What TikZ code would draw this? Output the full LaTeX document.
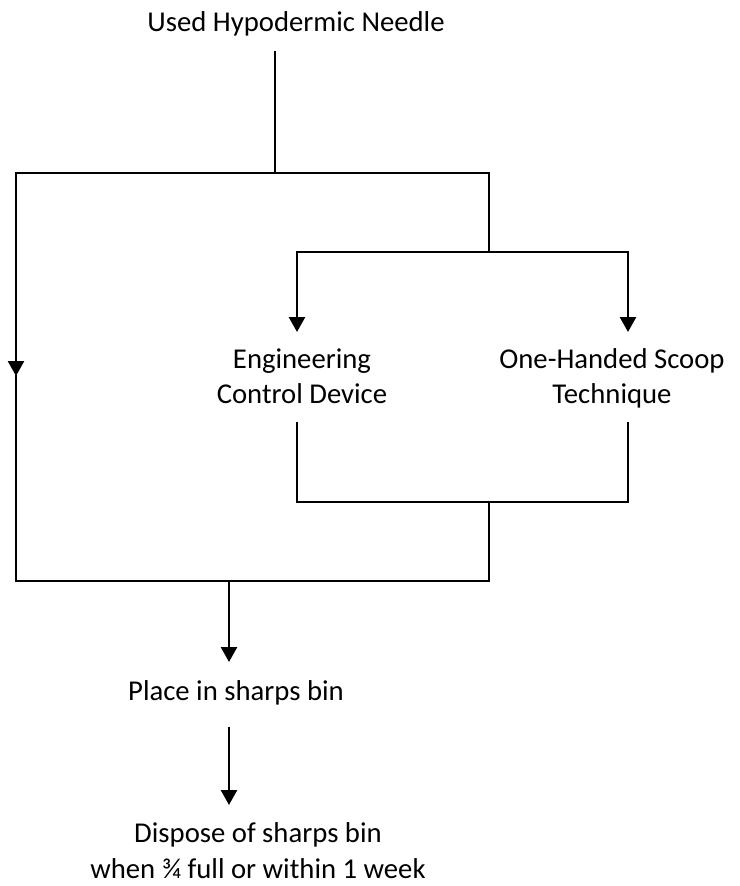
\documentclass[tikz,border=0pt]{standalone}
\usepackage{fontspec}
\setmainfont{Carlito}
\usetikzlibrary{arrows.meta}
\begin{document}
\begin{tikzpicture}[x=1pt,y=1pt,
  lbl/.style={inner sep=0pt,anchor=base,align=center,font=\fontsize{28.7}{35}\selectfont},
  wire/.style={line width=2.6pt,line cap=rect,line join=miter},
  arr/.style={wire,line cap=butt,-{Triangle[width=16pt,length=15pt]}}]
\useasboundingbox (0,0) rectangle (739,-886);
% texts (base anchor = baseline of last line)
\node[lbl] (title) at (296,-31) {Used Hypodermic Needle};
\node[lbl] (ecd) at (302,-403) {Engineering\\Control Device};
\node[lbl] (ohs) at (612,-403) {One-Handed Scoop\\Technique};
\node[lbl] (place) at (236,-700) {Place in sharps bin};
\node[lbl,font=\fontsize{28.7}{36}\selectfont] (dispose) at (258,-878) {Dispose of sharps bin\\when ¾ full or within 1 week};
% junction points
\coordinate (top) at (275,-52);
\coordinate (j1) at (275,-173);
\coordinate (L1) at (16,-173);
\coordinate (R1) at (489,-173);
\coordinate (R2) at (489,-252);
\coordinate (e1) at (297,-252);
\coordinate (o1) at (628,-252);
\coordinate (e2) at (297,-332);
\coordinate (o2) at (628,-332);
\coordinate (e3) at (297,-423);
\coordinate (o3) at (628,-423);
\coordinate (e4) at (297,-502);
\coordinate (o4) at (628,-502);
\coordinate (m4) at (489,-502);
\coordinate (m5) at (489,-581);
\coordinate (L5) at (16,-581);
\coordinate (Lmid) at (16,-376);
\coordinate (p0) at (229,-581);
\coordinate (p1) at (229,-662);
\coordinate (p2) at (229,-727);
\coordinate (p3) at (229,-805);
% connectors
\draw[wire] (top) -- (j1);
\draw[wire] (L1) -- (R1) -- (R2);
\draw[wire] (e1) -- (o1);
\draw[arr] (L1) -- (Lmid);
\draw[wire] (Lmid) -- (L5) -- (m5) -- (m4);
\draw[arr] (e1) -- (e2);
\draw[arr] (o1) -- (o2);
\draw[wire] (e3) -- (e4) -- (o4) -- (o3);
\draw[arr] (p0) -- (p1);
\draw[arr] (p2) -- (p3);
\end{tikzpicture}
\end{document}
